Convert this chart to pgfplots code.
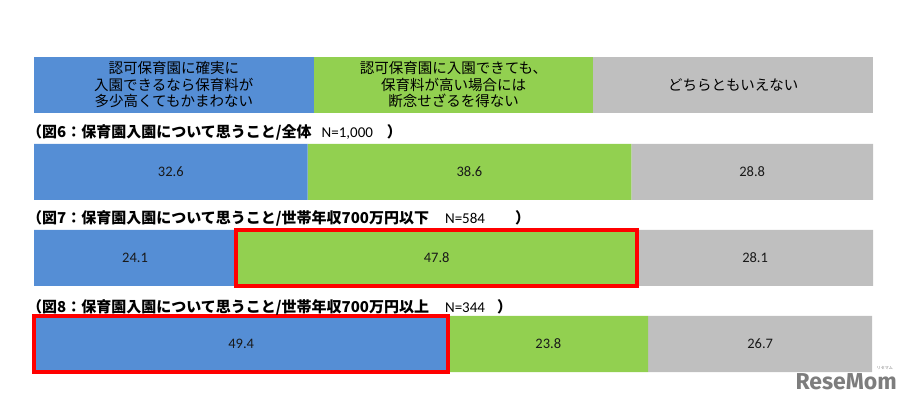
\documentclass[border=0pt]{standalone}
\usepackage{fontspec}
\usepackage{pgfplots}
\pgfplotsset{compat=1.18}
\usepackage{pgfplotstable}
\setmainfont{Carlito}
\newfontfamily\jp{Noto Sans CJK JP}
\newfontfamily\wm{Fira Sans}
\definecolor{cblue}{RGB}{85,142,213}
\definecolor{cgreen}{RGB}{146,208,80}
\definecolor{cgray}{RGB}{191,191,191}
\definecolor{wmgray}{RGB}{125,125,125}

\pgfplotstableread{
x y lab
32.6 2 32.6
24.1 1 24.1
49.4 0 49.4
}\tblue
\pgfplotstableread{
x y lab
38.6 2 38.6
47.8 1 47.8
23.8 0 23.8
}\tgreen
\pgfplotstableread{
x y lab
28.8 2 28.8
28.1 1 28.1
26.7 0 26.7
}\tgray

\pgfplotsset{
  rowaxis/.style={scale only axis, width=839bp, xmin=0, xmax=100, hide axis, clip=false},
}

\begin{document}
\begin{tikzpicture}
\path[use as bounding box] (0,0) rectangle (910bp,405bp);

% header (legend row)
\begin{axis}[rowaxis, at={(34bp,292.3bp)}, anchor=south west, height=56bp,
  ymin=-0.5, ymax=0.5, xbar stacked, bar width=56bp,
  nodes near coords,
  every node near coord/.append style={anchor=center, align=center,
     font=\jp\fontsize{14.5bp}{16.2bp}\selectfont, text=black},
]
\addplot[fill=cblue, draw=none, nodes near coords={認可保育園に確実に\\入園できるなら保育料が\\多少高くてもかまわない}] coordinates {(33.3333,0)};
\addplot[fill=cgreen, draw=none, nodes near coords={認可保育園に入園できても、\\保育料が高い場合には\\断念せざるを得ない}] coordinates {(33.3333,0)};
\addplot[fill=cgray, draw=none, nodes near coords={どちらともいえない}] coordinates {(33.3334,0)};
\end{axis}

% data rows
\begin{axis}[rowaxis, at={(34bp,18bp)}, anchor=south west, height=258bp,
  ymin=-0.5, ymax=2.5, xbar stacked, bar width=56bp,
  nodes near coords, point meta=explicit symbolic,
  every node near coord/.append style={anchor=center,
     font=\fontsize{14.5bp}{16bp}\selectfont, text=black!90},
]
\addplot[fill=cblue, draw=none] table[x=x,y=y,meta=lab]{\tblue};
\addplot[fill=cgreen, draw=none] table[x=x,y=y,meta=lab]{\tgreen};
\addplot[fill=cgray, draw=none] table[x=x,y=y,meta=lab]{\tgray};
\end{axis}

% red highlight frames
\begin{axis}[rowaxis, at={(34bp,18bp)}, anchor=south west, height=258bp,
  ymin=-0.5, ymax=2.5]
\addplot[red, line width=4bp, line join=miter, no marks] coordinates {(24.1,0.674)(71.9,0.674)(71.9,1.326)(24.1,1.326)} -- cycle;
\addplot[red, line width=4bp, line join=miter, no marks] coordinates {(0,-0.326)(49.4,-0.326)(49.4,0.326)(0,0.326)} -- cycle;
\end{axis}

% section titles
\tikzset{ttl/.style={anchor=west, inner sep=0pt, font=\jp\bfseries\fontsize{15bp}{18bp}\selectfont, text=black}}
\node[ttl] at (27bp,273bp) {（図6：保育園入園について思うこと/全体\hspace{10bp}{\rmfamily\mdseries N=1,000}\hspace{14bp}）};
\node[ttl] at (27bp,187bp) {（図7：保育園入園について思うこと/世帯年収700万円以下\hspace{16bp}{\rmfamily\mdseries N=584}\hspace{30bp}）};
\node[ttl] at (27bp,98bp) {（図8：保育園入園について思うこと/世帯年収700万円以上\hspace{16bp}{\rmfamily\mdseries N=344}\hspace{12bp}）};

% watermark
\node[anchor=east, inner sep=0pt, font=\wm\bfseries\fontsize{23bp}{24bp}\selectfont, text=wmgray] at (897bp,23.5bp) {ReseMom};
\node[anchor=east, inner sep=0pt, font=\jp\fontsize{4bp}{5bp}\selectfont, text=wmgray] at (893bp,37bp) {リセマム};
\end{tikzpicture}
\end{document}
